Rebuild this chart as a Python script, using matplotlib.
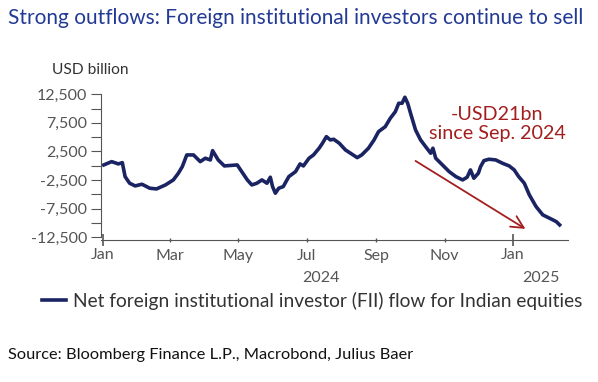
import matplotlib
matplotlib.use("Agg")
import matplotlib.pyplot as plt
import matplotlib.dates as mdates
import pandas as pd

plt.rcParams['font.family'] = ['Lato', 'DejaVu Sans']

# giorni dal 1 gen 2024 e flusso netto FII (USD mn)
giorni = [1, 8, 14, 17.5, 20, 24, 29, 35, 42, 48, 56, 63, 67.5, 71, 75, 81, 87,
          91.5, 96, 98, 103, 108.5, 120, 124, 129, 133, 137.5, 142, 146.5, 149.5,
          151.5, 154, 157, 161, 166, 172, 176, 179, 184, 188, 193, 196, 199.5, 203,
          206, 211, 216.5, 221, 227, 231, 237, 242, 246, 252, 256.5, 261, 264, 267,
          269.5, 272, 275, 279, 283.5, 288, 292.5, 294.5, 297, 303, 309, 315, 321,
          325, 328, 331, 335, 337, 340, 344.5, 350.5, 356.5, 362.5, 367, 371, 376,
          380.5, 386.5, 392.5, 398.5, 404.5, 407.5]
flusso = [142, 718, 316, 544, -1904, -3057, -3529, -3232, -3931, -4054, -3354,
          -2480, -1309, -156, 1890, 1890, 718, 1313, 1016, 2641, 1016, -33, 142,
          -1030, -2480, -3354, -3057, -2480, -3057, -2008, -3652, -4805, -3931,
          -3652, -1904, -1030, 316, -33, 1313, 1890, 3061, 3935, 5088, 4512, 4634,
          3935, 2764, 2187, 1418, 1890, 3061, 4512, 5962, 6836, 8305, 9458, 10927,
          10927, 11976, 10927, 8882, 6260, 4512, 3340, 2187, 3061, 1313, 142,
          -1030, -1904, -2480, -2008, -732, -2183, -1309, -156, 893, 1138, 1016,
          439, -33, -732, -1904, -3057, -5102, -7147, -8598, -9175, -9770, -10346]

date = pd.Timestamp("2024-01-01") + pd.to_timedelta(giorni, unit="D")

tick_y = [-12500, -10000, -7500, -5000, -2500, 0, 2500, 5000, 7500, 10000, 12500]
etichette_y = ["-12,500", "", "-7,500", "", "-2,500", "", "2,500", "", "7,500", "", "12,500"]

blu = "#1b2463"
rosso = "#a31f1f"
grigio = "#555555"

fig = plt.figure(figsize=(5.98, 3.82), dpi=100)
ax = fig.add_axes([0.1689, 0.373, 0.781, 0.381])

ax.plot(date, flusso, color=blu, linewidth=2.6, solid_joinstyle='round',
        label="Net foreign institutional investor (FII) flow for Indian equities")

ax.set_xlim(pd.Timestamp("2023-12-30 12:00"), pd.Timestamp("2025-02-19"))
ax.set_ylim(-12900, 12550)

ax.spines['top'].set_visible(False)
ax.spines['right'].set_visible(False)
ax.spines['left'].set_color(grigio)
ax.spines['bottom'].set_color(grigio)
ax.spines['left'].set_bounds(-12500, 12500)

ax.set_yticks(tick_y)
ax.set_yticklabels(etichette_y)
ax.tick_params(axis='y', direction='out', length=7, color=grigio, labelcolor=grigio,
               labelsize=11.5, pad=3)

ax.xaxis.set_major_locator(mdates.MonthLocator(bymonth=1))
ax.xaxis.set_minor_locator(mdates.MonthLocator(bymonth=[3, 5, 7, 9, 11]))
ax.xaxis.set_major_formatter(mdates.DateFormatter("%b"))
ax.xaxis.set_minor_formatter(mdates.DateFormatter("%b"))
ax.tick_params(axis='x', which='major', direction='inout', length=8, width=1.2,
               color=grigio, labelcolor=grigio, labelsize=11.5, pad=2)
ax.tick_params(axis='x', which='minor', direction='inout', length=3, width=1,
               color=grigio, labelcolor=grigio, labelsize=11.5, pad=5)

ax.text(pd.Timestamp("2024-07-14"), -19600, "2024", ha='center', va='center',
        color=grigio, fontsize=11.5)
ax.text(pd.Timestamp("2025-01-26"), -19600, "2025", ha='center', va='center',
        color=grigio, fontsize=11.5)

# freccia e commento
ax.annotate("", xy=(pd.Timestamp("2025-01-12"), -11046),
            xytext=(pd.Timestamp("2024-10-06"), 841),
            arrowprops=dict(arrowstyle='->', color=rosso, lw=1.3, mutation_scale=22,
                            shrinkA=0, shrinkB=0))
ax.text(pd.Timestamp("2024-12-18"), 7300, "-USD21bn\nsince Sep. 2024", ha='center',
        va='center', color=rosso, fontsize=14.2, linespacing=1.12)

fig.text(0.013, 0.953, "Strong outflows: Foreign institutional investors continue to sell",
         color="#233a94", fontsize=15, ha='left', va='center')
fig.text(0.087, 0.817, "USD billion", color="#333333", fontsize=11.2, ha='left', va='center')
fig.text(0.013, 0.07, "Source: Bloomberg Finance L.P., Macrobond, Julius Baer",
         color="#111111", fontsize=11.8, ha='left', va='center')

fig.legend(loc='center left', bbox_to_anchor=(0.07, 0.213), frameon=False,
           fontsize=13.8, handlelength=1.25, handletextpad=0.35, labelcolor="#333333",
           borderaxespad=0, borderpad=0)

fig.savefig("out.png", dpi=100)
